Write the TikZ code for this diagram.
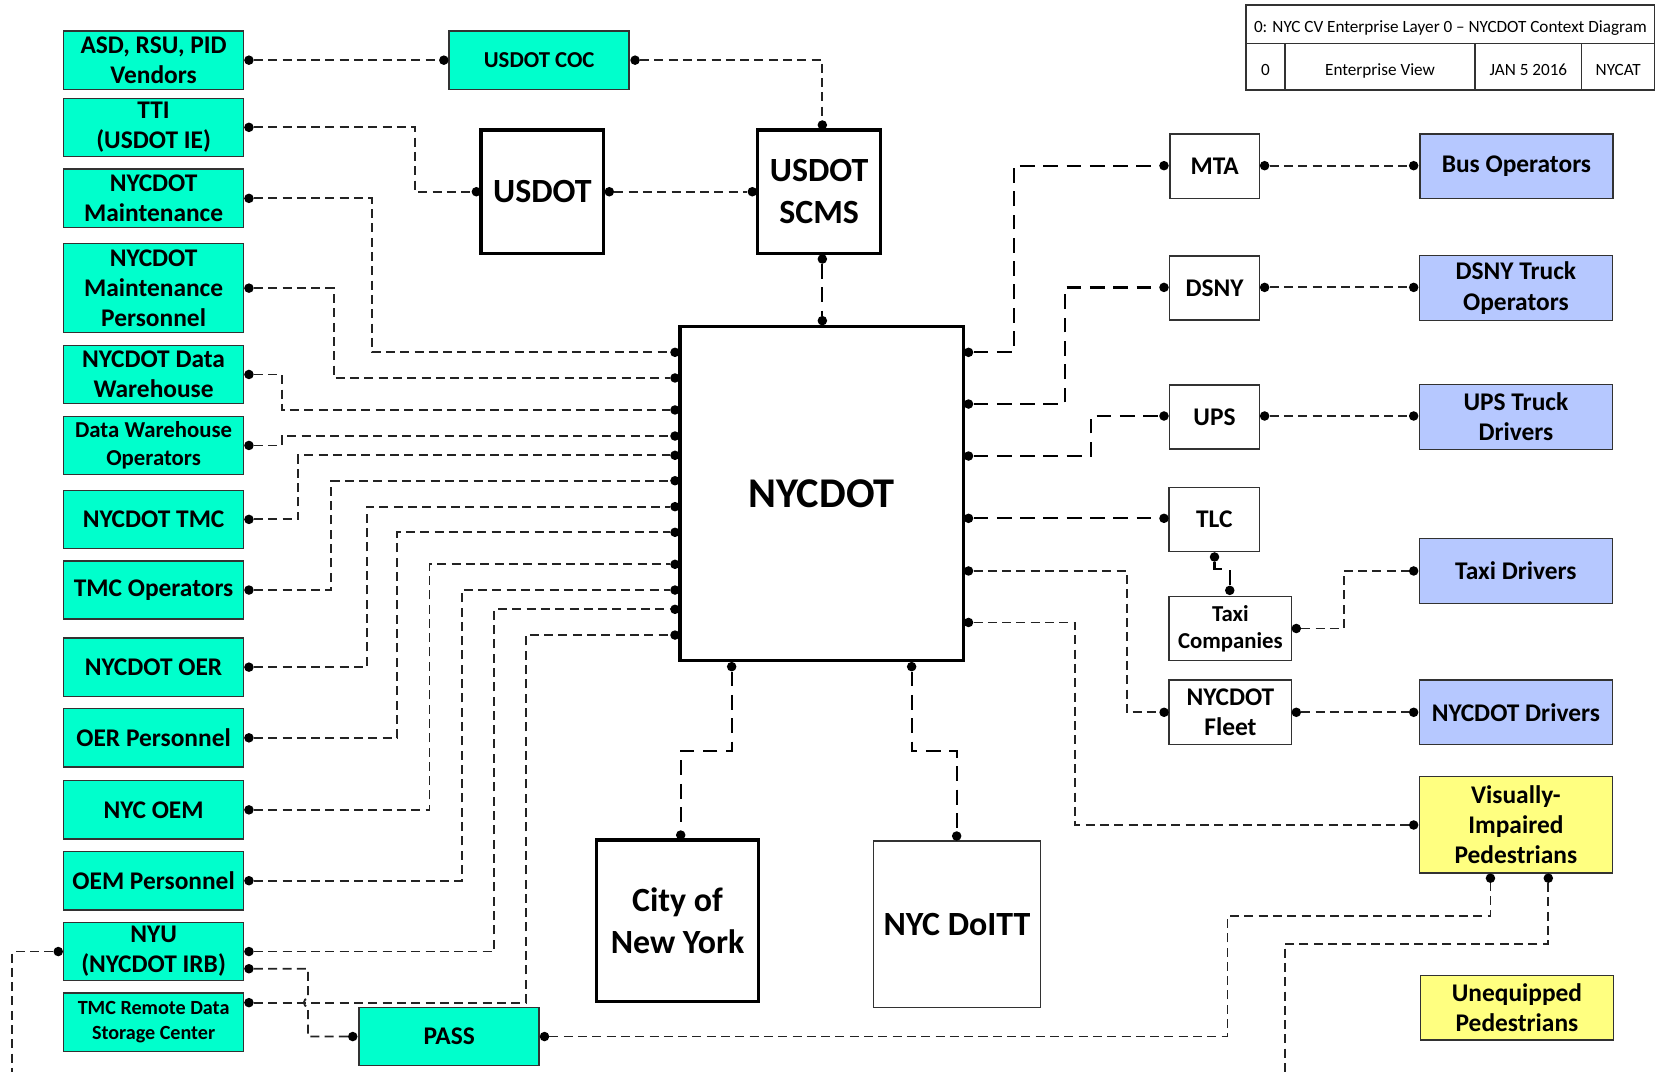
\documentclass[tikz,border=0pt]{standalone}
\usepackage{fontspec}
\setmainfont{Carlito}
\usetikzlibrary{calc}
\definecolor{cyanc}{RGB}{0,255,204}
\definecolor{bluec}{RGB}{182,200,255}
\definecolor{yellowc}{RGB}{255,255,128}
\definecolor{edgec}{RGB}{50,50,50}
\definecolor{linec}{RGB}{35,35,35}
\tikzset{
  base/.style={rectangle, inner sep=0pt, align=center, font=\bfseries\fontsize{24}{28.5}\selectfont},
  cyanbox/.style={base, fill=cyanc, draw=edgec, line width=1.4pt, minimum width=170pt, minimum height=55pt},
  bluebox/.style={base, fill=bluec, draw=edgec, line width=1.4pt, minimum width=182pt, minimum height=61pt},
  yellowbox/.style={base, fill=yellowc, draw=edgec, line width=1.4pt, minimum width=182pt, minimum height=61pt},
  thinbox/.style={base, fill=white, draw=edgec, line width=1.2pt},
  thickbox/.style={base, fill=white, draw=black, line width=3pt},
  midfont/.style={font=\bfseries\fontsize{21.5}{26}\selectfont},
  smallfont/.style={font=\bfseries\fontsize{19}{24.2}\selectfont},
  bigfont/.style={font=\bfseries\fontsize{32}{39.3}\selectfont},
  dot/.style={circle, fill=black, inner sep=0pt, minimum size=9pt},
  fine/.style={draw=linec, line width=1.7pt, dash pattern=on 8.5pt off 5pt},
  coarse/.style={draw=black, line width=2.1pt, dash pattern=on 14pt off 8pt},
  cell/.style={rectangle, draw=edgec, line width=1.2pt, inner sep=0pt, text height=16pt, text depth=0pt, font=\fontsize{16.2}{19}\selectfont}
}
\begin{document}
\begin{tikzpicture}[x=1pt,y=-1pt]
\useasboundingbox (0,0) rectangle (1568,1012);
\fill[white] (0,0) rectangle (1568,1012);

% title block
\node[cell, minimum width=385.7pt, minimum height=36.6pt] (ttl) at (1369.15,23) {0: NYC CV Enterprise Layer 0 – NYCDOT Context Diagram};
\node[cell, minimum width=36.7pt, minimum height=43.7pt] (tc1) at (1194.65,63.15) {0};
\node[cell, minimum width=179.5pt, minimum height=43.7pt] (tc2) at (1302.75,63.15) {Enterprise View};
\node[cell, minimum width=100.7pt, minimum height=43.7pt] (tc3) at (1442.85,63.15) {JAN 5 2016};
\node[cell, minimum width=68.8pt, minimum height=43.7pt] (tc4) at (1527.6,63.15) {NYCAT};

% left column
\node[cyanbox] (asd) at (145,56.8) {ASD, RSU, PID\\Vendors};
\node[cyanbox] (tti) at (145,120.25) {TTI\\(USDOT IE)};
\node[cyanbox] (maint) at (145,187.25) {NYCDOT\\Maintenance};
\node[cyanbox, minimum height=84pt] (mpers) at (145,272) {NYCDOT\\Maintenance\\Personnel};
\node[cyanbox] (dw) at (145,353.5) {NYCDOT Data\\Warehouse};
\node[cyanbox, midfont] (dwo) at (145,420.5) {Data Warehouse\\Operators};
\node[cyanbox] (tmc) at (145,490.3) {NYCDOT TMC};
\node[cyanbox] (tmcops) at (145,557) {TMC Operators};
\node[cyanbox] (oer) at (145,629.8) {NYCDOT OER};
\node[cyanbox] (oerp) at (145,696.5) {OER Personnel};
\node[cyanbox] (nycoem) at (145,764.5) {NYC OEM};
\node[cyanbox] (oemp) at (145,831.4) {OEM Personnel};
\node[cyanbox] (nyu) at (145,898.25) {NYU\\(NYCDOT IRB)};
\node[cyanbox, smallfont] (tmcr) at (145,964.9) {TMC Remote Data\\Storage Center};
\node[cyanbox, midfont] (coc) at (509,56.8) {USDOT COC};
\node[cyanbox] (pass) at (424,978.5) {PASS};

% central boxes
\node[thickbox, bigfont, minimum width=116pt, minimum height=116.5pt] (usdot) at (512,181) {USDOT};
\node[thickbox, bigfont, minimum width=116pt, minimum height=116.5pt] (scms) at (773.3,181) {USDOT\\SCMS};
\node[thickbox, font=\bfseries\fontsize{40}{48}\selectfont, minimum width=267.4pt, minimum height=315.7pt] (nycdot) at (775.7,465.85) {NYCDOT};
\node[thickbox, bigfont, minimum width=152.6pt, minimum height=152.6pt] (city) at (639.6,869.3) {City of\\New York};
\node[thinbox, bigfont, minimum width=158pt, minimum height=157.3pt] (doitt) at (903.4,872.65) {NYC DoITT};

% right boxes
\node[thinbox, minimum width=84.6pt, minimum height=60.7pt] (mta) at (1146.7,156.85) {MTA};
\node[thinbox, minimum width=85pt, minimum height=60.4pt] (dsny) at (1146.5,271.9) {DSNY};
\node[thinbox, minimum width=85pt, minimum height=60.4pt] (ups) at (1146.5,393.7) {UPS};
\node[thinbox, minimum width=85.4pt, minimum height=60pt] (tlc) at (1146.3,490.45) {TLC};
\node[thinbox, midfont, minimum width=115.8pt, minimum height=60.8pt] (taxic) at (1161.5,593.4) {Taxi\\Companies};
\node[thinbox, minimum width=115.8pt, minimum height=60.6pt] (fleet) at (1161.5,672.3) {NYCDOT\\Fleet};
\node[bluebox] (busops) at (1431.5,156.85) {Bus Operators};
\node[bluebox] (dsnyops) at (1431,271.9) {DSNY Truck\\Operators};
\node[bluebox] (upsd) at (1431,393.7) {UPS Truck\\Drivers};
\node[bluebox] (taxid) at (1431,539) {Taxi Drivers};
\node[bluebox] (drv) at (1431,672.3) {NYCDOT Drivers};
\node[yellowbox, minimum height=91pt] (vip) at (1431,778.5) {Visually-\\Impaired\\Pedestrians};
\node[yellowbox] (uneq) at (1432,951.25) {Unequipped\\Pedestrians};

% connection dots
\foreach \n/\x/\y in {asd-r/235/56.8, coc-l/419/56.8, coc-r/599.5/56.8, scms-t/776.3/118,
  tti-r/235/120.2, usdot-l/449.7/181, usdot-r/575.2/181, scms-l/710.2/181, scms-b/776.3/244.5, ny-t/776.3/302.7,
  maint-r/235/187.25, mpers-r/235/272, dw-r/235/353.5, dwo-r/235/420.5, tmc-r/235/490.3, tmcops-r/235/557,
  oer-r/235/629.8, oerp-r/235/696.5, nycoem-r/235/764.5, oemp-r/235/831.4, nyu-ra/235/898.25, nyu-rb/235/914.5,
  nyu-l/55/898.25, tmcr-r/235/946.5, pass-l/333/978.5, pass-r/514/978.5,
  ny-la/637.2/332.6, ny-lb/637.2/356.8, ny-lc/637.2/387, ny-ld/637.2/411.6, ny-le/637.2/429.8, ny-lf/637.2/453.8,
  ny-lg/637.2/478.3, ny-lh/637.2/502.5, ny-li/637.2/532.7, ny-lj/637.2/557, ny-lk/637.2/575.2, ny-ll/637.2/599.5,
  ny-ra/914.3/332.6, ny-rb/914.3/381.4, ny-rc/914.3/430.5, ny-rd/914.3/489.3, ny-re/914.3/539, ny-rf/914.3/587.6,
  ny-ba/690.7/629.3, ny-bb/860.6/629.3, city-t/642.6/788.3, doitt-t/903.1/789.2,
  mta-l/1098.8/156.4, mta-r/1193.8/156.4, bus-l/1334.5/156.4,
  dsny-l/1098.8/271.3, dsny-r/1193.8/271.3, dsnyops-l/1334.5/271.3,
  ups-l/1098.8/392.7, ups-r/1193.8/392.7, upsd-l/1334.5/392.7,
  tlc-l/1098.8/489.3, tlc-b/1146.5/525.8, taxic-t/1160.9/557.3, taxic-r/1223.7/593.3, taxid-l/1334.5/539,
  fleet-l/1098.9/672.4, fleet-r/1223.7/672.4, drv-l/1334.5/672.4,
  vip-l/1334.5/778.8, vip-ba/1407/829, vip-bb/1461.6/829}
  {\node[dot] (\n) at (\x,\y) {};}
\coordinate (nyu-end) at (11.7,1012);
\coordinate (vip-end) at (1212.9,1012);

% fine connectors
\draw[fine] (asd-r) -- (coc-l);
\draw[fine] (coc-r) -| (scms-t);
\draw[fine] (tti-r) -- ++(157,0) |- (usdot-l);
\draw[fine] (usdot-r) -- (scms-l);
\draw[fine] (maint-r) -- ++(116,0) |- (ny-la);
\draw[fine] (mpers-r) -- ++(80,0) |- (ny-lb);
\draw[fine] (dw-r) -- ++(31,0) |- (ny-lc);
\draw[fine] (dwo-r) -- ++(31,0) |- (ny-ld);
\draw[fine] (tmc-r) -- ++(46.5,0) |- (ny-le);
\draw[fine] (tmcops-r) -- ++(77.7,0) |- (ny-lf);
\draw[fine] (oer-r) -- ++(111.4,0) |- (ny-lg);
\draw[fine] (oerp-r) -- ++(140,0) |- (ny-lh);
\draw[fine] (nycoem-r) -- ++(170.4,0) |- (ny-li);
\draw[fine] (oemp-r) -- ++(200.8,0) |- (ny-lj);
\draw[fine] (nyu-ra) -- ++(231.5,0) |- (ny-lk);
\draw[fine] (tmcr-r) -- ++(261.5,0) |- (ny-ll);
\draw[fine] (nyu-rb) -- ++(55.8,0) -- ++(0,28) arc[start angle=270, end angle=90, radius=4] |- (pass-l);
\draw[fine] (nyu-l) -| (nyu-end);
\draw[fine] (pass-r) -- ++(644.7,0) -- ++(0,-113.5) -| (vip-ba);
\draw[fine] (vip-bb) -- ++(0,61.8) -| (vip-end);
\draw[fine] (mta-r) -- (bus-l);
\draw[fine] (dsny-r) -- (dsnyops-l);
\draw[fine] (ups-r) -- (upsd-l);
\draw[fine] (taxic-r) -- ++(44.8,0) |- (taxid-l);
\draw[fine] (fleet-r) -- (drv-l);
\draw[fine] (ny-re) -- ++(149.3,0) |- (fleet-l);
\draw[fine] (ny-rf) -- ++(100.5,0) |- (vip-l);

% coarse connectors
\draw[coarse] (scms-b) -- (ny-t);
\draw[coarse] (ny-ra) -- ++(42.6,0) |- (mta-l);
\draw[coarse] (ny-rb) -- ++(91.1,0) |- (dsny-l);
\draw[coarse] (ny-rc) -- ++(115.4,0) |- (ups-l);
\draw[coarse] (ny-rd) -- (tlc-l);
\draw[coarse] (tlc-b) -- ++(0,11.2) -| (taxic-t);
\draw[coarse] (ny-ba) -- ++(0,79.3) -| (city-t);
\draw[coarse] (ny-bb) -- ++(0,79.3) -| (doitt-t);
\end{tikzpicture}
\end{document}
